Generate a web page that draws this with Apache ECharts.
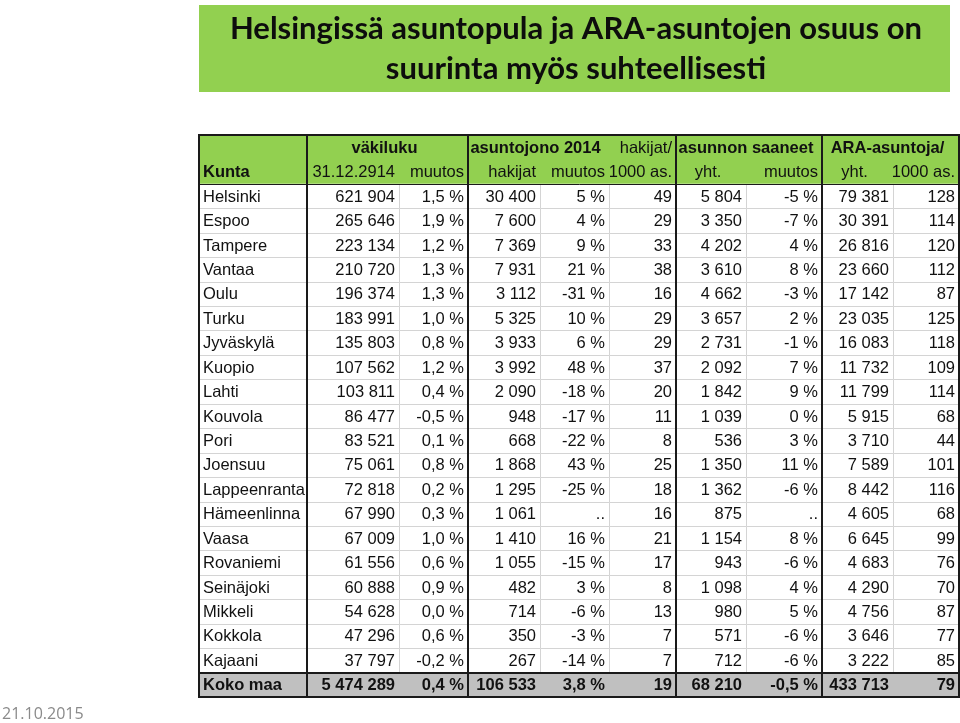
<!DOCTYPE html>
<html>
<head>
<meta charset="utf-8">
<script src="https://cdn.jsdelivr.net/npm/echarts@6/dist/echarts.min.js"></script>
<style>
  html, body { margin: 0; padding: 0; background: #fff; }
  #chart { width: 960px; height: 723px; }
</style>
</head>
<body>
<div id="chart"></div>
<script>
// taulukon tiedot
const kunnat = ['Helsinki', 'Espoo', 'Tampere', 'Vantaa', 'Oulu', 'Turku', 'Jyväskylä', 'Kuopio', 'Lahti', 'Kouvola',
  'Pori', 'Joensuu', 'Lappeenranta', 'Hämeenlinna', 'Vaasa', 'Rovaniemi', 'Seinäjoki', 'Mikkeli', 'Kokkola', 'Kajaani']
const vakiluku = [621904, 265646, 223134, 210720, 196374, 183991, 135803, 107562, 103811, 86477,
  83521, 75061, 72818, 67990, 67009, 61556, 60888, 54628, 47296, 37797]
const vakilukuMuutos = [1.5, 1.9, 1.2, 1.3, 1.3, 1.0, 0.8, 1.2, 0.4, -0.5,
  0.1, 0.8, 0.2, 0.3, 1.0, 0.6, 0.9, 0.0, 0.6, -0.2]
const hakijat = [30400, 7600, 7369, 7931, 3112, 5325, 3933, 3992, 2090, 948,
  668, 1868, 1295, 1061, 1410, 1055, 482, 714, 350, 267]
const hakijatMuutos = [5, 4, 9, 21, -31, 10, 6, 48, -18, -17,
  -22, 43, -25, null, 16, -15, 3, -6, -3, -14]
const hakijatPer1000 = [49, 29, 33, 38, 16, 29, 29, 37, 20, 11,
  8, 25, 18, 16, 21, 17, 8, 13, 7, 7]
const saaneet = [5804, 3350, 4202, 3610, 4662, 3657, 2731, 2092, 1842, 1039,
  536, 1350, 1362, 875, 1154, 943, 1098, 980, 571, 712]
const saaneetMuutos = [-5, -7, 4, 8, -3, 2, -1, 7, 9, 0,
  3, 11, -6, null, 8, -6, 4, 5, -6, -6]
const araYht = [79381, 30391, 26816, 23660, 17142, 23035, 16083, 11732, 11799, 5915,
  3710, 7589, 8442, 4605, 6645, 4683, 4290, 4756, 3646, 3222]
const araPer1000 = [128, 114, 120, 112, 87, 125, 118, 109, 114, 68,
  44, 101, 116, 68, 99, 76, 70, 87, 77, 85]
const kokoMaa = ['Koko maa', 5474289, 0.4, 106533, 3.8, 19, 68210, -0.5, 433713, 79]

const ylaOtsikot = ['väkiluku', 'asuntojono 2014', 'hakijat/', 'asunnon saaneet', 'ARA-asuntoja/']
const alaOtsikot = ['Kunta', '31.12.2914', 'muutos', 'hakijat', 'muutos', '1000 as.', 'yht.', 'muutos', 'yht.', '1000 as.']

// sarakkeiden leveydet ja ylärivin yhdistetyt solut
const colWidths = [108, 92, 69, 72, 69, 67, 70, 76, 71, 66]
const ylaSpans = [[1, 3], [3, 5], [5, 6], [6, 8], [8, 10]]
const edges = [0]
colWidths.forEach(w => edges.push(edges[edges.length - 1] + w))

const fmtNum = n => String(n).replace(/\B(?=(\d{3})+(?!\d))/g, ' ')
const fmtPct = (v, d) => v == null ? '..' : v.toFixed(d).replace('.', ',') + ' %'

// header cells
const headCells = [{c0: 0, c1: 10, r: 0, h: 2, bg: true}]
ylaOtsikot.forEach((t, i) => {
  const plain = t === 'hakijat/'
  headCells.push({c0: ylaSpans[i][0], c1: ylaSpans[i][1], r: 0, h: 1, text: t,
    align: plain ? 'right' : 'center', bold: !plain})
})
alaOtsikot.forEach((t, i) => {
  headCells.push({c0: i, c1: i + 1, r: 1, h: 1, text: t,
    align: i === 0 ? 'left' : (t === 'yht.' ? 'center' : 'right'), bold: i === 0})
})

// body cells
const bodyCells = []
kunnat.forEach((k, i) => {
  const row = [k, fmtNum(vakiluku[i]), fmtPct(vakilukuMuutos[i], 1), fmtNum(hakijat[i]),
    fmtPct(hakijatMuutos[i], 0), String(hakijatPer1000[i]), fmtNum(saaneet[i]),
    fmtPct(saaneetMuutos[i], 0), fmtNum(araYht[i]), String(araPer1000[i])]
  row.forEach((t, c) => bodyCells.push({c: c, r: i + 2, text: t, total: false}))
})
const totalRow = [kokoMaa[0], fmtNum(kokoMaa[1]), fmtPct(kokoMaa[2], 1), fmtNum(kokoMaa[3]),
  fmtPct(kokoMaa[4], 1), String(kokoMaa[5]), fmtNum(kokoMaa[6]), fmtPct(kokoMaa[7], 1),
  fmtNum(kokoMaa[8]), String(kokoMaa[9])]
totalRow.forEach((t, c) => bodyCells.push({c: c, r: 22, text: t, total: true}))

// borders: [c0, r0, c1, r1, width, color]
const borders = []
;[0, 1, 3, 6, 8, 10].forEach(c => borders.push([c, 0, c, 23, 2, '#1a1a1a']))
;[0, 22, 23].forEach(r => borders.push([0, r, 10, r, 2, '#1a1a1a']))
borders.push([0, 2, 10, 2, 1, '#1a1a1a'])

const FONT = '"Liberation Sans", Arial, sans-serif'
const crisp = v => Math.round(v) + 0.5

function textEl(x, y, text, align, bold) {
  return {
    type: 'text', x: x, y: y,
    style: {text: text, fontFamily: FONT, fontSize: 16.5, fontWeight: bold ? 'bold' : 'normal',
      fill: '#111', align: align, verticalAlign: 'middle'}
  }
}

function cellText(p0, p1, text, align, bold) {
  const cy = (p0[1] + p1[1]) / 2 + 1
  let x = p1[0] - 4
  if (align === 'left') x = p0[0] + 4
  if (align === 'center') x = (p0[0] + p1[0]) / 2 - 3
  return textEl(x, cy, text, align, bold)
}

const chart = echarts.init(document.getElementById('chart'))

const option = {
  animation: false,
  grid: {left: 199, top: 135, width: 760, height: 562},
  xAxis: {type: 'value', min: 0, max: edges[edges.length - 1], show: false},
  yAxis: {type: 'value', min: 0, max: 23, inverse: true, show: false},
  graphic: [
    {type: 'rect', shape: {x: 199, y: 5, width: 751, height: 87}, style: {fill: '#92D050'}},
    {type: 'text', x: 576, y: 49,
      style: {text: 'Helsingissä asuntopula ja ARA-asuntojen osuus on\nsuurinta myös suhteellisesti',
        fontFamily: 'Lato, sans-serif', fontWeight: 'bold', fontSize: 31, lineHeight: 40,
        fill: '#0d0d0d', align: 'center', verticalAlign: 'middle'}},
    {type: 'text', x: 2, y: 714,
      style: {text: '21.10.2015', fontFamily: '"Open Sans", sans-serif', fontSize: 16,
        fill: '#8a8a8a', align: 'left', verticalAlign: 'middle'}}
  ],
  series: [
    {
      type: 'custom', clip: false, z: 2,
      data: headCells.map(h => [h.c0, h.r]),
      renderItem: function (params, api) {
        const h = headCells[params.dataIndex]
        const p0 = api.coord([edges[h.c0], h.r])
        const p1 = api.coord([edges[h.c1], h.r + h.h])
        if (h.bg) {
          return {type: 'rect', shape: {x: p0[0], y: p0[1], width: p1[0] - p0[0], height: p1[1] - p0[1]},
            style: {fill: '#92D050'}}
        }
        return cellText(p0, p1, h.text, h.align, h.bold)
      }
    },
    {
      type: 'custom', clip: false, z: 2,
      data: bodyCells.map(b => [b.c, b.r]),
      renderItem: function (params, api) {
        const b = bodyCells[params.dataIndex]
        const p0 = api.coord([edges[b.c], b.r])
        const p1 = api.coord([edges[b.c + 1], b.r + 1])
        const x0 = crisp(p0[0]), y0 = crisp(p0[1]), x1 = crisp(p1[0]), y1 = crisp(p1[1])
        return {
          type: 'group',
          children: [
            {type: 'rect', shape: {x: x0, y: y0, width: x1 - x0, height: y1 - y0},
              style: {fill: b.total ? '#C0C0C0' : '#fff', stroke: b.total ? '#C0C0C0' : '#D4D4D4', lineWidth: 1}},
            cellText(p0, p1, b.text, b.c === 0 ? 'left' : 'right', b.total)
          ]
        }
      }
    },
    {
      type: 'custom', clip: false, z: 3,
      data: borders.map(l => [l[0], l[1]]),
      renderItem: function (params, api) {
        const l = borders[params.dataIndex]
        const a = api.coord([edges[l[0]], l[1]])
        const b = api.coord([edges[l[2]], l[3]])
        const f = l[4] === 1 ? crisp : Math.round
        return {type: 'line', shape: {x1: f(a[0]), y1: f(a[1]), x2: f(b[0]), y2: f(b[1])},
          style: {stroke: l[5], lineWidth: l[4], lineCap: 'square'}}
      }
    }
  ]
}

chart.setOption(option)
</script>
</body>
</html>
